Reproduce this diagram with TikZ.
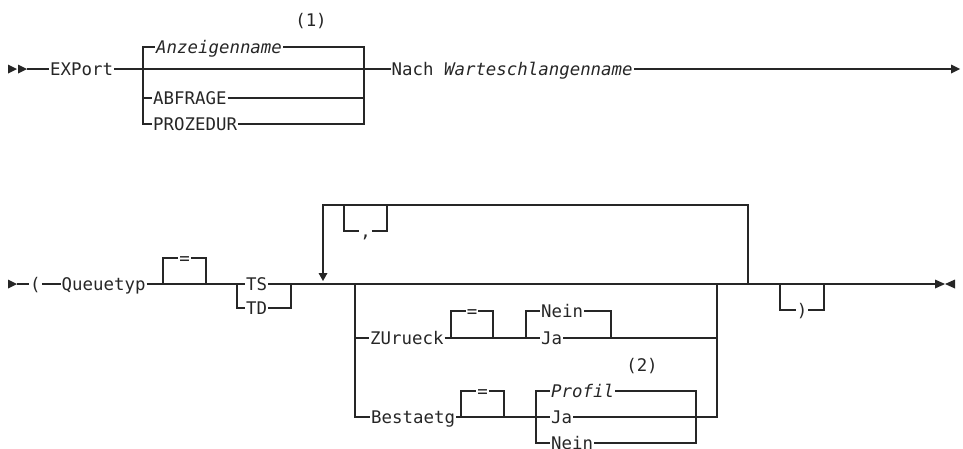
\documentclass[tikz,border=0pt]{standalone}
\usepackage{fontspec}
\newfontfamily\rrfont{DejaVu Sans Mono}
\definecolor{ink}{RGB}{38,38,38}
\tikzset{
  kw/.style={inner xsep=1pt, inner ysep=0pt, text height=12.7pt, text depth=0pt,
    anchor=west, font={\rrfont\fontsize{17.4pt}{20pt}\selectfont}},
  sym/.style={kw, anchor=center},
  note/.style={kw, anchor=center},
  rail/.style={line width=1.1pt},
  heavy/.style={line width=2.4pt}
}
\begin{document}
\begin{tikzpicture}[x=1pt,y=-1pt,color=ink]
\useasboundingbox (0,0) rectangle (963,448);

% ---------------- Row 1 ----------------
\fill (8,64.5) -- (17,69) -- (8,73.5) -- cycle;
\fill (18,64.5) -- (27,69) -- (18,73.5) -- cycle;
\coordinate (r1s) at (27,69);
\node[kw] (export) at (49,69) {EXPort};
\node[kw] (anz) at (155,47) {\itshape Anzeigenname};
\node[kw] (abf) at (152,98) {ABFRAGE};
\node[kw] (proz) at (152,124) {PROZEDUR};
\node[note] (n1) at (311,20) {(1)};
\node[kw] (nach) at (390.5,69) {Nach \textit{Warteschlangenname}};
\coordinate (b1l) at (143,69);
\coordinate (b1r) at (364,69);
\coordinate (r1e) at (951,69);
\draw[rail] (r1s) -- (export.west);
\draw[rail] (export.east) -- (nach.west);
\draw[rail] (b1l) |- (anz.west);
\draw[rail] (anz.east) -| (b1r);
\draw[rail] (b1l) |- (abf.west);
\draw[rail] (abf.east) -| (b1r);
\draw[rail] (b1l) |- (proz.west);
\draw[rail] (proz.east) -| (b1r);
\draw[rail] (nach.east) -- (r1e);
\fill (951,64.5) -- (960,69) -- (951,73.5) -- cycle;

% ---------------- Row 2 ----------------
\fill (8,279.5) -- (17,284) -- (8,288.5) -- cycle;
\coordinate (r2s) at (17,284);
\node[kw] (lp) at (29,284) {(};
\node[kw] (qt) at (60.5,284) {Queuetyp};
\draw[rail] (r2s) -- (lp.west);
\draw[rail] (lp.east) -- (qt.west);

% optional "="
\node[sym] (eq1) at (184.5,258) {=};
\coordinate (q1l) at (163,284);
\coordinate (q1r) at (206,284);
\draw[rail] (q1l) |- (eq1.west);
\draw[rail] (eq1.east) -| (q1r);

% TS / TD
\node[kw] (ts) at (245,284) {TS};
\node[kw] (td) at (245,308) {TD};
\coordinate (t1l) at (237,284);
\coordinate (t1r) at (291,284);
\draw[rail] (qt.east) -- (ts.west);
\draw[rail] (t1l) |- (td.west);
\draw[rail] (td.east) -| (t1r);

% repeat loop
\coordinate (lpA) at (323,273);
\coordinate (lpL) at (323,205);
\coordinate (lpR) at (748,205);
\coordinate (lpE) at (748,284);
\draw[rail] (lpA) -- (lpL) -- (lpR) -- (lpE);
\fill (318.5,273) -- (327.5,273) -- (323,281) -- cycle;
\node[sym] (cm) at (365.5,231) {,};
\coordinate (c1l) at (344,205);
\coordinate (c1r) at (387,205);
\draw[rail] (c1l) |- (cm.west);
\draw[rail] (cm.east) -| (c1r);

% big choice
\coordinate (bL) at (355,284);
\coordinate (bR) at (717,284);
\node[kw] (zu) at (369,338) {ZUrueck};
\node[kw] (be) at (370,417) {Bestaetg};
\draw[rail] (bL) |- (zu.west);
\draw[rail] (bL) |- (be.west);

% ZUrueck options
\node[sym] (eq2) at (472,311) {=};
\coordinate (z1l) at (451,338);
\coordinate (z1r) at (493,338);
\draw[rail] (z1l) |- (eq2.west);
\draw[rail] (eq2.east) -| (z1r);
\node[kw] (nein1) at (540,311) {Nein};
\node[kw] (ja1) at (540,338) {Ja};
\coordinate (z2l) at (526,338);
\coordinate (z2r) at (611,338);
\draw[rail] (zu.east) -- (ja1.west);
\draw[rail] (z2l) |- (nein1.west);
\draw[rail] (nein1.east) -| (z2r);
\draw[rail] (ja1.east) -| (bR);

% Bestaetg options
\node[sym] (eq3) at (482.5,391) {=};
\coordinate (e3l) at (461,417);
\coordinate (e3r) at (504,417);
\draw[rail] (e3l) |- (eq3.west);
\draw[rail] (eq3.east) -| (e3r);
\node[kw] (prof) at (550,391) {\itshape Profil};
\node[kw] (ja2) at (550,417) {Ja};
\node[kw] (nein2) at (550,443) {Nein};
\node[note] (n2) at (642,365) {(2)};
\coordinate (p1l) at (536,417);
\coordinate (p1r) at (696,417);
\draw[rail] (be.east) -- (ja2.west);
\draw[rail] (p1l) |- (prof.west);
\draw[rail] (prof.east) -| (p1r);
\draw[rail] (p1l) |- (nein2.west);
\draw[rail] (nein2.east) -| (p1r);
\draw[rail] (ja2.east) -| (bR);

% closing parenthesis (optional) and end
\node[sym] (rp) at (802,310) {)};
\coordinate (rpl) at (780,284);
\coordinate (rpr) at (824,284);
\draw[rail] (rpl) |- (rp.west);
\draw[rail] (rp.east) -| (rpr);
\coordinate (d1) at (828,284);
\coordinate (d2) at (849,284);
\coordinate (r2e) at (935,284);
\draw[rail] (ts.east) -- (d1);
\draw[heavy] (d1) -- (d2);
\draw[rail] (d2) -- (r2e);
\fill (935,279.5) -- (945,284) -- (935,288.5) -- cycle;
\fill (955,279.5) -- (945,284) -- (955,288.5) -- cycle;
\end{tikzpicture}
\end{document}
